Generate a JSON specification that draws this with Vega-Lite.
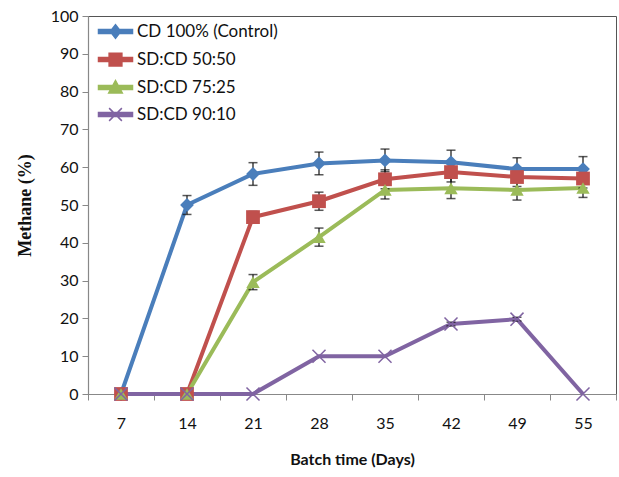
{
  "$schema": "https://vega.github.io/schema/vega-lite/v6.json",
  "width": 528,
  "height": 378,
  "autosize": "none",
  "padding": {"left": 88, "top": 16, "right": 3, "bottom": 83},
  "background": "white",
  "config": {
    "view": {"stroke": "#555", "strokeWidth": 1},
    "font": "Lato",
    "axis": {
      "labelFont": "Lato",
      "labelFontSize": 16,
      "labelColor": "#111",
      "domainColor": "#888",
      "domainWidth": 1.2,
      "tickColor": "#888",
      "tickSize": 6,
      "grid": false,
      "titleColor": "#111"
    },
    "point": {"size": 170, "strokeWidth": 1.5, "opacity": 1}
  },
  "data": {
    "values": [
      {"series": "CD 100% (Control)", "day": "7", "value": 0, "err": 0},
      {"series": "CD 100% (Control)", "day": "14", "value": 50, "err": 2.5},
      {"series": "CD 100% (Control)", "day": "21", "value": 58.2, "err": 3},
      {"series": "CD 100% (Control)", "day": "28", "value": 61, "err": 3},
      {"series": "CD 100% (Control)", "day": "35", "value": 61.8, "err": 3},
      {"series": "CD 100% (Control)", "day": "42", "value": 61.3, "err": 3.2},
      {"series": "CD 100% (Control)", "day": "49", "value": 59.5, "err": 3},
      {"series": "CD 100% (Control)", "day": "55", "value": 59.5, "err": 3.3},
      {"series": "SD:CD 50:50", "day": "7", "value": 0, "err": 0},
      {"series": "SD:CD 50:50", "day": "14", "value": 0, "err": 0},
      {"series": "SD:CD 50:50", "day": "21", "value": 46.8, "err": 1.5},
      {"series": "SD:CD 50:50", "day": "28", "value": 51, "err": 2.4},
      {"series": "SD:CD 50:50", "day": "35", "value": 56.8, "err": 2.5},
      {"series": "SD:CD 50:50", "day": "42", "value": 58.7, "err": 2.6},
      {"series": "SD:CD 50:50", "day": "49", "value": 57.4, "err": 2.5},
      {"series": "SD:CD 50:50", "day": "55", "value": 57, "err": 2.5},
      {"series": "SD:CD 75:25", "day": "7", "value": 0, "err": 0},
      {"series": "SD:CD 75:25", "day": "14", "value": 0, "err": 0},
      {"series": "SD:CD 75:25", "day": "21", "value": 29.6, "err": 2},
      {"series": "SD:CD 75:25", "day": "28", "value": 41.5, "err": 2.4},
      {"series": "SD:CD 75:25", "day": "35", "value": 54, "err": 2.4},
      {"series": "SD:CD 75:25", "day": "42", "value": 54.4, "err": 2.7},
      {"series": "SD:CD 75:25", "day": "49", "value": 54, "err": 2.7},
      {"series": "SD:CD 75:25", "day": "55", "value": 54.5, "err": 2.5},
      {"series": "SD:CD 90:10", "day": "7", "value": 0, "err": 0},
      {"series": "SD:CD 90:10", "day": "14", "value": 0, "err": 0},
      {"series": "SD:CD 90:10", "day": "21", "value": 0, "err": 0},
      {"series": "SD:CD 90:10", "day": "28", "value": 10, "err": 0},
      {"series": "SD:CD 90:10", "day": "35", "value": 10, "err": 0},
      {"series": "SD:CD 90:10", "day": "42", "value": 18.5, "err": 0.5},
      {"series": "SD:CD 90:10", "day": "49", "value": 19.8, "err": 0.5},
      {"series": "SD:CD 90:10", "day": "55", "value": 0, "err": 0}
    ]
  },
  "encoding": {
    "x": {
      "field": "day",
      "type": "nominal",
      "sort": ["7", "14", "21", "28", "35", "42", "49", "55"],
      "scale": {"type": "band", "paddingInner": 0, "paddingOuter": 0},
      "axis": {
        "title": "Batch time (Days)",
        "titleFont": "Lato",
        "titleFontSize": 16,
        "titleFontWeight": "bold",
        "titlePadding": 20,
        "labelAngle": 0,
        "labelPadding": 15,
        "tickBand": "extent"
      }
    },
    "y": {
      "field": "value",
      "type": "quantitative",
      "scale": {"domain": [0, 100], "nice": false},
      "axis": {
        "title": "Methane (%)",
        "titleFont": "Liberation Serif",
        "titleFontSize": 18,
        "titleFontWeight": "bold",
        "titlePadding": 16,
        "values": [0, 10, 20, 30, 40, 50, 60, 70, 80, 90, 100],
        "labelPadding": 4
      }
    }
  },
  "layer": [
    {
      "mark": {"type": "line", "strokeWidth": 4},
      "encoding": {
        "color": {
          "field": "series",
          "type": "nominal",
          "scale": {
            "domain": ["CD 100% (Control)", "SD:CD 50:50", "SD:CD 75:25", "SD:CD 90:10"],
            "range": ["#4A7EBB", "#C0504D", "#9BBB59", "#8064A2"]
          },
          "legend": {
            "title": null,
            "orient": "none",
            "legendX": 18,
            "legendY": 6,
            "padding": 0,
            "symbolSize": 289,
            "symbolStrokeWidth": 1.5,
            "labelOffset": 12,
            "labelFont": "Lato",
            "labelFontSize": 17,
            "labelColor": "#111",
            "rowPadding": 8
          }
        }
      }
    },
    {
      "transform": [{"filter": "datum.err > 0"}],
      "mark": {
        "type": "errorbar",
        "ticks": {"size": 9, "thickness": 1.5, "color": "#111"},
        "rule": {"strokeWidth": 1.2, "color": "#111"}
      },
      "encoding": {
        "y": {"field": "value", "type": "quantitative"},
        "yError": {"field": "err"}
      }
    },
    {
      "description": "Legend key only: no rows pass the filter, so it draws nothing on the plot but supplies the line-with-marker legend symbols.",
      "transform": [{"filter": {"field": "err", "lt": 0}}],
      "mark": {"type": "point", "filled": true},
      "encoding": {
        "color": {"field": "series", "type": "nominal"},
        "shape": {
          "field": "series",
          "type": "nominal",
          "scale": {
            "domain": ["CD 100% (Control)", "SD:CD 50:50", "SD:CD 75:25", "SD:CD 90:10"],
            "range": [
              "M-2,-0.24H2V0.24H-2Z M0,-0.8L0.62,0L0,0.8L-0.62,0Z",
              "M-2,-0.24H2V0.24H-2Z M-0.75,-0.75H0.75V0.75H-0.75Z",
              "M-2,-0.24H2V0.24H-2Z M0,-0.82L0.8,0.66H-0.8Z",
              "M-2,-0.24H2V0.24H-2Z M-0.75,-0.75L0.75,0.75M-0.75,0.75L0.75,-0.75"
            ]
          },
          "legend": null
        }
      }
    },
    {
      "transform": [{"filter": {"field": "series", "equal": "CD 100% (Control)"}}],
      "mark": {"type": "point", "shape": "diamond", "filled": true, "color": "#4A7EBB", "size": 190}
    },
    {
      "transform": [{"filter": {"field": "series", "equal": "SD:CD 50:50"}}],
      "mark": {"type": "point", "shape": "square", "filled": true, "color": "#C0504D", "size": 190}
    },
    {
      "transform": [{"filter": {"field": "series", "equal": "SD:CD 75:25"}}],
      "mark": {"type": "point", "shape": "triangle-up", "filled": true, "color": "#9BBB59", "size": 180}
    },
    {
      "transform": [{"filter": {"field": "series", "equal": "SD:CD 90:10"}}],
      "mark": {"type": "point", "shape": "M-1,-1L1,1M-1,1L1,-1", "filled": false, "color": "#8064A2", "size": 170, "strokeWidth": 1.5}
    }
  ]
}
